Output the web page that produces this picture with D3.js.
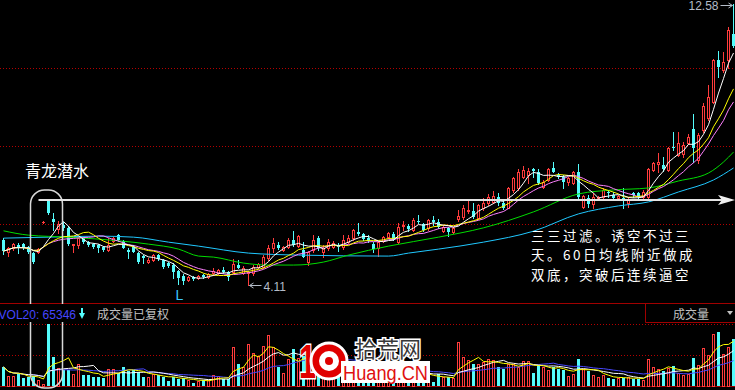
<!DOCTYPE html>
<html lang="zh">
<head>
<meta charset="utf-8">
<title>青龙潜水</title>
<script src="https://cdn.jsdelivr.net/npm/d3@7"></script>
<style>
  html, body { margin: 0; padding: 0; background: #000; }
  svg { display: block; }
</style>
</head>
<body>
<script>

// daily candles, left to right
var opens = [5.46,5.10,5.22,5.31,5.34,5.25,5.07,5.10,6.00,6.64,
  6.10,5.79,5.92,5.82,5.31,5.31,5.52,5.40,5.34,5.31,
  5.25,5.16,5.43,5.61,5.43,5.16,5.25,5.07,4.98,4.80,
  4.86,5.01,4.86,4.77,4.71,4.53,4.38,4.26,4.35,4.32,
  4.41,4.35,4.47,4.47,4.56,4.50,4.50,4.71,4.47,4.47,
  4.47,4.65,4.65,4.92,5.22,5.31,5.16,5.25,5.46,5.28,
  5.16,4.80,5.16,5.52,5.10,5.22,5.25,5.31,5.25,5.40,
  5.52,5.70,5.64,5.52,5.34,5.22,5.43,5.55,5.64,5.40,
  5.89,5.89,5.76,6.04,5.95,5.82,6.07,6.01,5.73,5.82,
  5.70,6.10,6.16,6.34,6.34,6.13,6.43,6.58,6.61,6.76,
  6.58,6.43,6.97,7.03,7.36,7.42,7.60,7.51,7.06,7.27,
  7.63,7.42,7.36,7.21,7.18,7.51,6.46,6.73,6.55,6.73,
  6.76,6.91,6.82,6.73,6.73,6.58,6.88,6.88,6.76,6.76,
  7.57,7.75,7.72,7.57,8.26,8.02,8.05,8.38,8.80,7.87,
  8.77,9.13,9.61,10.88,10.58,10.88,11.66]
var highs = [5.52,5.25,5.37,5.37,5.37,5.28,5.10,5.22,6.05,6.70,
  6.28,6.04,6.01,5.88,5.34,5.55,5.55,5.43,5.37,5.34,
  5.28,5.52,5.55,5.64,5.46,5.22,5.31,5.10,5.01,4.92,
  5.04,5.04,4.89,4.80,4.77,4.56,4.44,4.38,4.38,4.41,
  4.44,4.47,4.62,4.59,4.65,4.53,4.89,4.86,4.68,4.53,
  4.71,4.77,5.01,5.31,5.52,5.40,5.28,5.52,5.73,5.61,
  5.40,5.13,5.61,5.58,5.31,5.49,5.43,5.37,5.61,5.61,
  5.79,5.97,5.67,5.61,5.40,5.43,5.58,5.70,5.70,5.97,
  6.04,5.95,6.13,6.22,5.98,6.10,6.19,6.10,5.92,5.85,
  5.85,6.37,6.52,6.64,6.58,6.55,6.73,6.85,6.94,6.88,
  6.64,7.06,7.36,7.60,7.69,7.63,7.63,7.60,7.27,7.63,
  7.81,7.48,7.42,7.36,7.54,7.75,6.82,6.82,6.88,6.79,
  7.03,6.97,6.91,6.82,7.03,6.76,6.91,6.91,6.97,7.63,
  7.81,8.08,7.96,8.26,8.71,8.71,8.41,8.65,9.25,8.68,
  9.58,10.12,10.91,11.15,11.12,11.87,12.58]
var lows = [5.04,4.98,5.16,5.07,5.19,5.07,4.77,5.07,5.98,6.25,
  5.76,5.67,5.76,5.31,5.10,5.22,5.37,5.29,5.22,5.10,
  5.13,5.13,5.40,5.43,5.22,4.92,5.10,4.77,4.77,4.77,
  4.83,4.86,4.62,4.65,4.32,4.14,4.14,4.23,4.26,4.29,
  4.32,4.32,4.41,4.44,4.47,4.26,4.47,4.62,4.44,4.11,
  4.41,4.62,4.62,4.86,5.10,5.19,5.13,5.22,5.28,5.25,
  4.95,4.71,5.10,5.16,4.95,5.16,5.22,5.13,5.19,5.37,
  5.46,5.61,5.46,5.40,5.10,4.98,5.40,5.52,5.46,5.37,
  5.76,5.73,5.73,5.98,5.73,5.76,5.92,5.82,5.70,5.58,
  5.67,6.04,6.10,6.28,6.13,6.10,6.37,6.52,6.58,6.52,
  6.40,6.43,6.91,6.97,7.33,7.18,7.36,7.15,7.03,7.24,
  7.51,7.33,7.03,7.12,7.15,6.73,6.43,6.46,6.43,6.70,
  6.73,6.76,6.67,6.70,6.43,6.46,6.76,6.73,6.73,6.73,
  7.54,7.51,7.54,7.54,8.17,7.99,7.96,8.35,7.81,7.78,
  8.71,9.07,9.58,10.37,10.52,10.64,11.27]
var closes = [5.13,5.22,5.34,5.25,5.22,5.10,4.80,5.19,6.02,6.28,
  6.01,5.94,5.83,5.34,5.34,5.52,5.40,5.31,5.25,5.22,
  5.16,5.31,5.52,5.46,5.22,5.10,5.10,4.80,4.92,4.86,
  5.01,4.89,4.65,4.68,4.50,4.32,4.23,4.35,4.29,4.38,
  4.35,4.44,4.53,4.56,4.50,4.35,4.74,4.62,4.62,4.50,
  4.65,4.74,4.95,5.22,5.37,5.22,5.25,5.46,5.31,5.58,
  4.95,5.10,5.46,5.22,5.22,5.40,5.37,5.25,5.46,5.52,
  5.76,5.64,5.49,5.43,5.19,5.40,5.55,5.67,5.49,5.85,
  5.92,5.79,6.07,6.01,5.76,6.07,6.01,5.85,5.85,5.70,
  5.82,6.19,6.43,6.37,6.16,6.52,6.58,6.76,6.79,6.58,
  6.43,7.03,7.33,7.51,7.57,7.54,7.54,7.18,7.21,7.60,
  7.51,7.36,7.21,7.33,7.51,6.76,6.79,6.55,6.76,6.76,
  6.97,6.88,6.73,6.79,6.64,6.67,6.82,6.76,6.91,7.60,
  7.78,7.81,7.60,8.23,8.23,8.38,8.32,8.56,8.23,8.62,
  9.49,9.76,10.88,10.67,10.82,11.78,11.30]

// volume, thousand lots
var vols = [47.5,25,25,30,20,22.5,25,15,5,155,
  72.5,45,40,40,30,55,27.5,27.5,22.5,22.5,
  20,42.5,42.5,32.5,47.5,37.5,40,35,22.5,22.5,
  30,27.5,22.5,12.5,22.5,17.5,20,15,7.5,12.5,
  15,15,27.5,25,17.5,17.5,97.5,55,47.5,105,
  82.5,75,100,127.5,97.5,47.5,32.5,67.5,92.5,70,
  75,62.5,70,55,45,50,40,35,50,45,
  60,50,40,35,37.5,35,30,30,27.5,45,
  35,30,40,30,27.5,25,10,30,22.5,22.5,
  20,110,72.5,65,55,55,60,67.5,65,47.5,
  42.5,55,55,47.5,62.5,62.5,32.5,52.5,47.5,40,
  47.5,42.5,40,25,30,67.5,42.5,37.5,27.5,22.5,
  27.5,20,17.5,20,20,22.5,17.5,17.5,15,67.5,
  47.5,42.5,37.5,45,50,32.5,27.5,30,70,52.5,
  95,77.5,130,135,80,97.5,117.5]

// the two slow averages as [day, price]
var ma30Pts = [[0,5.74],[5,5.61],[13,5.55],[19,5.49],[29,5.34],[35,5.19],[39,4.98],[42,4.95],
  [48,4.77],[53,4.71],[58,4.71],[64,4.80],[69,5.01],[77,5.28],[87,5.55],[96,5.83],
  [106,6.31],[115,6.85],[122,6.97],[129,7.03],[135,7.24],[141,7.48],[144,7.81],[146,8.11]]
var ma60Pts = [[0,5.52],[9,5.55],[19,5.58],[26,5.55],[33,5.40],[39,5.28],[49,5.07],[59,5.01],
  [77,4.98],[81,5.07],[87,5.19],[96,5.40],[106,5.73],[115,6.25],[123,6.49],[129,6.61],
  [135,6.91],[142,7.27],[146,7.63]]

var gridPrices = [5.95, 8.29, 10.64]
var gridVols = [77.5, 155]

var noteLines = ["三三过滤。诱空不过三", "天。60日均线附近做成", "双底，突破后连续逼空"]

var UP = "#ff3c3c", DOWN = "#54fcfc", FRAME = "#a00000"
var CJK = "'Noto Sans CJK SC', sans-serif", LAT = "'Liberation Sans', Arial, sans-serif"

var W = 735, H = 390

var svg = d3.select("body").append("svg")
  .attr("width", W).attr("height", H)
  .style("background", "#000")

var x = d3.scaleBand().domain(d3.range(opens.length)).range([1, 736])
function cx(i){ return x(i) + x.bandwidth() / 2 }   // 3.5 + 5i

var y = d3.scaleLinear().domain([4.11, 12.58]).range([285, 3.5])
var yv = d3.scaleLinear().domain([0, 155]).range([386, 324])

function movingAvg(arr, n){
  return arr.map(function(v, i){
    return d3.mean(arr.slice(Math.max(0, i - n + 1), i + 1))
  })
}

var days = d3.range(opens.length).map(function(i){
  return {i: i, o: opens[i], h: highs[i], l: lows[i], c: closes[i], v: vols[i], up: closes[i] >= opens[i]}
})

// grid lines
svg.append("g").selectAll("line").data(gridPrices).enter().append("line")
  .attr("x1", 0).attr("x2", W)
  .attr("y1", function(d){ return Math.round(y(d)) + 0.5 })
  .attr("y2", function(d){ return Math.round(y(d)) + 0.5 })
  .attr("stroke", "#b40000").attr("stroke-dasharray", "1,2")
svg.append("g").selectAll("line").data(gridVols).enter().append("line")
  .attr("x1", 0).attr("x2", W)
  .attr("y1", function(d){ return Math.round(yv(d)) + 0.5 })
  .attr("y2", function(d){ return Math.round(yv(d)) + 0.5 })
  .attr("stroke", "#b40000").attr("stroke-dasharray", "1,2")

// panel frame
svg.append("line").attr("x1", 0).attr("x2", W).attr("y1", 303.5).attr("y2", 303.5).attr("stroke", FRAME)
svg.append("line").attr("x1", 0).attr("x2", W).attr("y1", 386.5).attr("y2", 386.5).attr("stroke", FRAME)

// candles
var cg = svg.append("g")
cg.selectAll("line").data(days).enter().append("line")
  .attr("x1", function(d){ return cx(d.i) }).attr("x2", function(d){ return cx(d.i) })
  .attr("y1", function(d){ return Math.round(y(d.h)) }).attr("y2", function(d){ return Math.round(y(d.l)) + 1 })
  .attr("stroke", function(d){ return d.up ? UP : DOWN })
cg.selectAll("rect").data(days).enter().append("rect")
  .each(function(d){
    var top = Math.round(y(Math.max(d.o, d.c))), bot = Math.round(y(Math.min(d.o, d.c)))
    var el = d3.select(this)
    if (d.up){
      el.attr("x", cx(d.i) - 1).attr("width", 2)
        .attr("y", top + 0.5).attr("height", Math.max(bot - top, 0.01))
        .attr("fill", "#000").attr("stroke", UP)
    } else {
      el.attr("x", cx(d.i) - 1.5).attr("width", 3)
        .attr("y", top).attr("height", Math.max(bot - top, 1))
        .attr("fill", DOWN)
    }
  })

// volume bars
var vg = svg.append("g")
vg.selectAll("rect").data(days).enter().append("rect")
  .each(function(d){
    var top = Math.round(yv(d.v))
    var el = d3.select(this)
    if (d.up){
      el.attr("x", cx(d.i) - 1).attr("width", 2)
        .attr("y", top + 0.5).attr("height", 386 - top)
        .attr("fill", "none").attr("stroke", UP)
    } else {
      el.attr("x", cx(d.i) - 1.5).attr("width", 3)
        .attr("y", top).attr("height", 386 - top)
        .attr("fill", DOWN)
    }
  })

// moving averages
var priceLine = d3.line().x(function(d){ return cx(d[0]) }).y(function(d){ return y(d[1]) })
var smoothLine = d3.line().x(function(d){ return cx(d[0]) }).y(function(d){ return y(d[1]) }).curve(d3.curveMonotoneX)
var volLine = d3.line().x(function(d){ return cx(d[0]) }).y(function(d){ return yv(d[1]) })

function pairs(arr){ return arr.map(function(v, i){ return [i, v] }) }

var priceMAs = [
  {n: 13, color: "#ff80ff"},
  {n: 10, color: "#ffff00"},
  {n: 5,  color: "#ffffff"}
]
svg.append("path").attr("d", smoothLine(ma60Pts)).attr("fill", "none").attr("stroke", "#20c8ff")
svg.append("path").attr("d", smoothLine(ma30Pts)).attr("fill", "none").attr("stroke", "#00dc00")
priceMAs.forEach(function(m){
  svg.append("path").attr("d", priceLine(pairs(movingAvg(closes, m.n))))
    .attr("fill", "none").attr("stroke", m.color)
})

var volMAs = [
  {n: 20, color: "#4848ff"},
  {n: 10, color: "#ffffff"},
  {n: 5,  color: "#ffff00"}
]
volMAs.forEach(function(m){
  svg.append("path").attr("d", volLine(pairs(movingAvg(vols, m.n))))
    .attr("fill", "none").attr("stroke", m.color)
})

// watermark logo
var logo = svg.append("g")
logo.append("text").attr("x", 299).attr("y", 378).text("1")
  .attr("font-family", LAT).attr("font-weight", "bold").attr("font-size", 48)
  .attr("textLength", 17).attr("lengthAdjust", "spacingAndGlyphs")
  .attr("fill", "#e00000").attr("stroke", "#fff").attr("stroke-width", 3).attr("paint-order", "stroke")
logo.append("circle").attr("cx", 329).attr("cy", 361).attr("r", 18)
  .attr("fill", "#e00000").attr("stroke", "#fff").attr("stroke-width", 3)
logo.append("circle").attr("cx", 329).attr("cy", 361).attr("r", 10).attr("fill", "#fff")
logo.append("circle").attr("cx", 329).attr("cy", 361).attr("r", 4).attr("fill", "#e00000")
logo.append("text").attr("x", 355).attr("y", 357).text("拾荒网")
  .attr("font-family", CJK).attr("font-size", 22)
  .attr("fill", "#383838").attr("stroke", "#fff").attr("stroke-width", 3).attr("paint-order", "stroke")
logo.append("rect").attr("x", 341).attr("y", 361).attr("width", 89).attr("height", 22).attr("fill", "#fff")
logo.append("text").attr("x", 343).attr("y", 380).text("Huang.CN")
  .attr("font-family", LAT).attr("font-size", 20)
  .attr("textLength", 85).attr("lengthAdjust", "spacingAndGlyphs")
  .attr("fill", "#e01010")

// annotation: rounded frame and breakout line
var first = 6, last = 12
svg.append("rect")
  .attr("x", cx(first) - 3).attr("y", 190)
  .attr("width", cx(last) - cx(first) + 2).attr("height", 198)
  .attr("rx", 14).attr("ry", 14)
  .attr("fill", "none").attr("stroke", "#d8d8d8").attr("stroke-width", 1.5)

var lineY = Math.round(y(highs[9])) + 1
svg.append("line").attr("x1", cx(7)).attr("x2", 722).attr("y1", lineY).attr("y2", lineY)
  .attr("stroke", "#e4e4e4").attr("stroke-width", 2)
svg.append("path")
  .attr("d", "M718," + (lineY - 5) + "L735," + lineY + "L718," + (lineY + 5) + "L722," + lineY + "Z")
  .attr("fill", "#f0f0f0")

svg.append("text").attr("x", 25).attr("y", 177).text("青龙潜水")
  .attr("font-family", CJK).attr("font-size", 16).attr("fill", "#fff")

// three-line note
svg.append("g").selectAll("text").data(noteLines).enter().append("text")
  .attr("x", 531).attr("y", function(d, i){ return 240.5 + i * 19.6 })
  .text(function(d){ return d })
  .attr("font-family", CJK).attr("font-size", 13.5).attr("letter-spacing", 2.5).attr("fill", "#fff")

// high / low markers
var hiIdx = d3.maxIndex(highs), loIdx = d3.minIndex(lows)
var hy = Math.round(y(highs[hiIdx])) + 1
svg.append("path")
  .attr("d", "M" + (cx(hiIdx) - 13) + "," + (hy + 0.5) + "H" + (cx(hiIdx) - 1) +
        "M" + (cx(hiIdx) - 5) + "," + (hy - 2) + "L" + (cx(hiIdx) - 1) + "," + (hy + 0.5) + "L" + (cx(hiIdx) - 5) + "," + (hy + 3))
  .attr("fill", "none").attr("stroke", "#b4bcc8")
svg.append("text").attr("x", cx(hiIdx) - 15).attr("y", 10).attr("text-anchor", "end")
  .text(d3.format(".2f")(highs[hiIdx]))
  .attr("font-family", LAT).attr("font-size", 12).attr("fill", "#b4bcc8")

var ly = Math.round(y(lows[loIdx])) + 0.5
svg.append("path")
  .attr("d", "M" + (cx(loIdx) + 1) + "," + ly + "H" + (cx(loIdx) + 13) +
        "M" + (cx(loIdx) + 5) + "," + (ly - 2.5) + "L" + (cx(loIdx) + 1) + "," + ly + "L" + (cx(loIdx) + 5) + "," + (ly + 2.5))
  .attr("fill", "none").attr("stroke", "#b4bcc8")
svg.append("text").attr("x", cx(loIdx) + 15).attr("y", ly + 5)
  .text(d3.format(".2f")(lows[loIdx]))
  .attr("font-family", LAT).attr("font-size", 12).attr("fill", "#b4bcc8")

svg.append("text").attr("x", cx(35) - 3).attr("y", 300).text("L")
  .attr("font-family", LAT).attr("font-size", 14).attr("fill", "#3cc8ff")

// volume header
svg.append("rect").attr("x", 0).attr("y", 304).attr("width", W).attr("height", 18).attr("fill", "#000")
svg.append("text").attr("x", 76).attr("y", 318.5).attr("text-anchor", "end").text("VOL20: 65346")
  .attr("font-family", LAT).attr("font-size", 12).attr("fill", "#4646ff")
svg.append("path").attr("d", "M82,308V316").attr("stroke", DOWN).attr("stroke-width", 2)
svg.append("path").attr("d", "M79,313L85,313L82,319Z").attr("fill", DOWN)
svg.append("text").attr("x", 97).attr("y", 319).text("成交量已复权")
  .attr("font-family", CJK).attr("font-size", 12).attr("fill", "#c0c0c0")
svg.append("path").attr("d", "M645.5,304V322.5H735").attr("fill", "none").attr("stroke", FRAME)
svg.append("text").attr("x", 673).attr("y", 319).text("成交量")
  .attr("font-family", CJK).attr("font-size", 12).attr("fill", "#c0c0c0")
svg.append("path").attr("d", "M727,311L733,311L730,315Z").attr("fill", "#c0c0c0")

</script>
</body>
</html>
